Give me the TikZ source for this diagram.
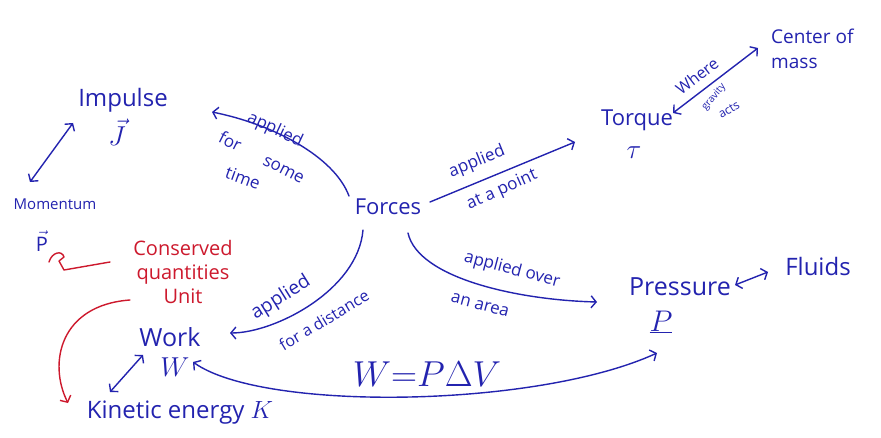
\documentclass[tikz,border=0pt]{standalone}
\usepackage{graphicx}
\usepackage{fontspec}
\setmainfont{Open Sans}
\usetikzlibrary{arrows.meta}
\definecolor{pen}{RGB}{35,35,175}
\definecolor{redpen}{RGB}{205,25,45}
\begin{document}
\begin{tikzpicture}[x=1pt,y=-1pt,
  lab/.style={text=pen, inner sep=1pt, font=\fontsize{#1}{#1}\selectfont},
  rlab/.style={text=redpen, inner sep=1pt, align=center, font=\fontsize{#1}{24}\selectfont},
  penline/.style={draw=pen, line width=1.4pt, line cap=round},
  redline/.style={draw=redpen, line width=1.4pt, line cap=round, line join=round},
  tip/.style={-{Straight Barb[length=5pt,width=12pt,line width=1.4pt]}},
  dtip/.style={{Straight Barb[length=5pt,width=12pt,line width=1.4pt]}-{Straight Barb[length=5pt,width=12pt,line width=1.4pt]}}
]
\fill[white] (0,0) rectangle (881,438);
\useasboundingbox (0,0) rectangle (881,438);

% concept nodes
\node[lab=22] (forces) at (388,207) {Forces};
\node[lab=24] (impulse) at (123,100) {Impulse};
\node[lab=24] (J) at (117,132) {\scalebox{1.1}{$\vec{J}$}};
\node[lab=15] (momentum) at (55,204) {Momentum};
\node[lab=20] (p) at (42,241) {$\vec{\mathrm{P}}$};
\node[lab=22] (torque) at (637,120) {Torque};
\node[lab=24] (tau) at (634,153) {\scalebox{1.1}{$\tau$}};
\node[lab=19, align=left, anchor=north west, font=\fontsize{19}{25}\selectfont] (com) at (770,28) {Center of\\mass};
\node[lab=25] (pressure) at (680,287) {Pressure};
\node[lab=24] (P) at (661,322) {\scalebox{1.2}{$\underline{P}$}};
\node[lab=24] (fluids) at (818,267) {Fluids};
\node[lab=25] (work) at (170,337) {Work};
\node[lab=24] (W) at (175,367) {\scalebox{1.1}{$W$}};
\node[lab=24] (ke) at (180,413) {Kinetic energy $K$};
\node[rlab=20] (cons) at (183,272) {Conserved\\quantities\\Unit};

% connector labels
\node[lab=17, rotate=-25] (la1) at (275,130) {applied};
\node[lab=17, rotate=-27] (la2) at (262,157) {for\hspace{1.6em}some};
\node[lab=17, rotate=-20] (la3) at (243,178) {time};
\node[lab=17, rotate=22] (lb1) at (477,162) {applied};
\node[lab=17, rotate=24] (lb2) at (502,190) {at a point};
\node[lab=16, rotate=38] (lc1) at (697,76) {Where};
\node[lab=10, rotate=50] (lc2) at (714,97) {gravity};
\node[lab=12, rotate=30] (lc3) at (729,110) {acts};
\node[lab=19, rotate=32] (ld1) at (281,298) {applied};
\node[lab=16, rotate=31] (ld2) at (324,320) {for a distance};
\node[lab=17, rotate=-15] (le1) at (512,270) {applied over};
\node[lab=17, rotate=-15] (le2) at (480,305) {an area};
\node[lab=24] (lf) at (427,374) {\scalebox{1.45}{$W{=}P\Delta V$}};

% blue connectors
\draw[penline, dtip] ([shift={(-25,-22)}]momentum.center) -- ([shift={(-50,23)}]impulse.center);
\draw[penline, tip] ([shift={(-39,-11)}]forces.center) .. controls +(-15,-40) and +(60,12) .. ([shift={(89,12)}]impulse.center);
\draw[penline, tip] ([shift={(42,-5)}]forces.center) -- ([shift={(-62,22)}]torque.center);
\draw[penline, dtip] ([shift={(36,-7)}]torque.center) -- ([shift={(-12,20)}]com.north west);
\draw[penline, tip] ([shift={(-25,23)}]forces.center) .. controls +(-5,60) and +(45,0) .. ([shift={(60,-4)}]work.center);
\draw[penline, tip] ([shift={(20,26)}]forces.center) .. controls +(10,45) and +(-80,-2) .. ([shift={(-83,15)}]pressure.center);
\draw[penline, dtip] ([shift={(55,-2)}]pressure.center) -- ([shift={(-50,5)}]fluids.center);
\draw[penline, dtip] ([shift={(18,-5)}]W.center) .. controls +(70,50) and +(-120,55) .. ([shift={(-4,31)}]P.center);
\draw[penline, dtip] ([shift={(-27,18)}]work.center) -- ([shift={(-70,-21)}]ke.center);

% red connectors
\draw[redline] ([shift={(7,21)}]p.center) .. controls +(3,-10) and +(-2,-7) .. ([shift={(22,16)}]p.center) -- ([shift={(17,20)}]p.center) -- ([shift={(22,29)}]p.center) -- ([shift={(-73,-10)}]cons.center);
\draw[redline, tip] ([shift={(-53,28)}]cons.center) .. controls +(-70,5) and +(-20,-40) .. ([shift={(-112,-10)}]ke.center);
\end{tikzpicture}
\end{document}
